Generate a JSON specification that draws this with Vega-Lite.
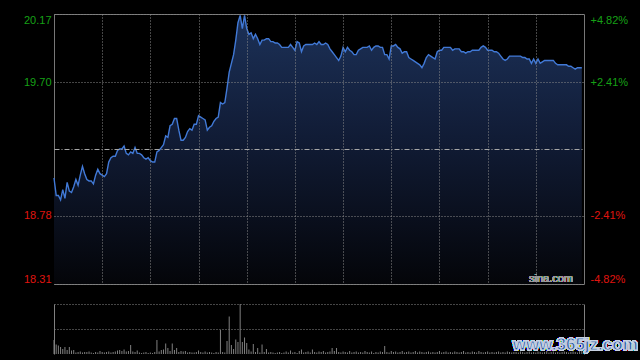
{
  "$schema": "https://vega.github.io/schema/vega-lite/v6.json",
  "background": "#000000",
  "padding": {"left": 22, "top": 12, "right": 6, "bottom": 10},
  "bounds": "flush",
  "spacing": 20,
  "config": {"font": "Liberation Sans", "axis": {"labelFont": "Liberation Sans", "labelFontSize": 11}},
  "datasets": {
    "price": [
      {"t":0,"p":19.04},{"t":1,"p":18.92},{"t":2,"p":18.92},{"t":3,"p":18.89},{"t":4,"p":18.96},{"t":5,"p":18.90},{"t":6,"p":19.01},{"t":7,"p":18.95},{"t":8,"p":18.94},{"t":9,"p":18.98},
      {"t":10,"p":19.03},{"t":11,"p":18.99},{"t":12,"p":19.06},{"t":13,"p":19.12},{"t":14,"p":19.07},{"t":15,"p":19.03},{"t":16,"p":19.02},{"t":17,"p":19.02},{"t":18,"p":19.00},{"t":19,"p":19.06},
      {"t":20,"p":19.10},{"t":21,"p":19.07},{"t":22,"p":19.06},{"t":23,"p":19.05},{"t":24,"p":19.07},{"t":25,"p":19.15},{"t":26,"p":19.18},{"t":27,"p":19.19},{"t":28,"p":19.19},{"t":29,"p":19.23},
      {"t":30,"p":19.24},{"t":31,"p":19.24},{"t":32,"p":19.26},{"t":33,"p":19.21},{"t":34,"p":19.20},{"t":35,"p":19.22},{"t":36,"p":19.21},{"t":37,"p":19.25},{"t":38,"p":19.21},{"t":39,"p":19.21},
      {"t":40,"p":19.20},{"t":41,"p":19.18},{"t":42,"p":19.17},{"t":43,"p":19.18},{"t":44,"p":19.16},{"t":45,"p":19.15},{"t":46,"p":19.15},{"t":47,"p":19.22},{"t":48,"p":19.23},{"t":49,"p":19.25},
      {"t":50,"p":19.27},{"t":51,"p":19.33},{"t":52,"p":19.32},{"t":53,"p":19.40},{"t":54,"p":19.41},{"t":55,"p":19.45},{"t":56,"p":19.45},{"t":57,"p":19.37},{"t":58,"p":19.30},{"t":59,"p":19.30},
      {"t":60,"p":19.32},{"t":61,"p":19.36},{"t":62,"p":19.38},{"t":63,"p":19.37},{"t":64,"p":19.41},{"t":65,"p":19.41},{"t":66,"p":19.47},{"t":67,"p":19.46},{"t":68,"p":19.45},{"t":69,"p":19.44},
      {"t":70,"p":19.37},{"t":71,"p":19.39},{"t":72,"p":19.40},{"t":73,"p":19.43},{"t":74,"p":19.45},{"t":75,"p":19.46},{"t":76,"p":19.56},{"t":77,"p":19.55},{"t":78,"p":19.56},{"t":79,"p":19.66},
      {"t":80,"p":19.77},{"t":81,"p":19.83},{"t":82,"p":19.89},{"t":83,"p":19.99},{"t":84,"p":20.11},{"t":85,"p":20.16},{"t":86,"p":20.07},{"t":87,"p":20.16},{"t":88,"p":20.07},{"t":89,"p":20.03},
      {"t":90,"p":20.04},{"t":91,"p":20.00},{"t":92,"p":20.03},{"t":93,"p":20.00},{"t":94,"p":19.96},{"t":95,"p":19.99},{"t":96,"p":19.99},{"t":97,"p":20.00},{"t":98,"p":20.00},{"t":99,"p":19.98},
      {"t":100,"p":19.98},{"t":101,"p":19.97},{"t":102,"p":19.97},{"t":103,"p":19.96},{"t":104,"p":19.94},{"t":105,"p":19.94},{"t":106,"p":19.94},{"t":107,"p":19.94},{"t":108,"p":19.96},{"t":109,"p":19.94},
      {"t":110,"p":19.92},{"t":111,"p":19.98},{"t":112,"p":19.97},{"t":113,"p":19.91},{"t":114,"p":19.95},{"t":115,"p":19.96},{"t":116,"p":19.96},{"t":117,"p":19.96},{"t":118,"p":19.96},{"t":119,"p":19.97},
      {"t":120,"p":19.96},{"t":121,"p":19.98},{"t":122,"p":19.96},{"t":123,"p":19.96},{"t":124,"p":19.97},{"t":125,"p":19.96},{"t":126,"p":19.93},{"t":127,"p":19.91},{"t":128,"p":19.89},{"t":129,"p":19.87},
      {"t":130,"p":19.85},{"t":131,"p":19.88},{"t":132,"p":19.94},{"t":133,"p":19.91},{"t":134,"p":19.94},{"t":135,"p":19.92},{"t":136,"p":19.91},{"t":137,"p":19.89},{"t":138,"p":19.89},{"t":139,"p":19.92},
      {"t":140,"p":19.93},{"t":141,"p":19.94},{"t":142,"p":19.94},{"t":143,"p":19.94},{"t":144,"p":19.95},{"t":145,"p":19.92},{"t":146,"p":19.94},{"t":147,"p":19.95},{"t":148,"p":19.95},{"t":149,"p":19.94},
      {"t":150,"p":19.94},{"t":151,"p":19.89},{"t":152,"p":19.89},{"t":153,"p":19.86},{"t":154,"p":19.95},{"t":155,"p":19.95},{"t":156,"p":19.96},{"t":157,"p":19.94},{"t":158,"p":19.93},{"t":159,"p":19.90},
      {"t":160,"p":19.91},{"t":161,"p":19.91},{"t":162,"p":19.87},{"t":163,"p":19.86},{"t":164,"p":19.85},{"t":165,"p":19.84},{"t":166,"p":19.83},{"t":167,"p":19.82},{"t":168,"p":19.80},{"t":169,"p":19.83},
      {"t":170,"p":19.87},{"t":171,"p":19.89},{"t":172,"p":19.88},{"t":173,"p":19.87},{"t":174,"p":19.86},{"t":175,"p":19.91},{"t":176,"p":19.92},{"t":177,"p":19.92},{"t":178,"p":19.94},{"t":179,"p":19.94},
      {"t":180,"p":19.94},{"t":181,"p":19.94},{"t":182,"p":19.92},{"t":183,"p":19.93},{"t":184,"p":19.93},{"t":185,"p":19.93},{"t":186,"p":19.91},{"t":187,"p":19.91},{"t":188,"p":19.90},{"t":189,"p":19.91},
      {"t":190,"p":19.91},{"t":191,"p":19.92},{"t":192,"p":19.92},{"t":193,"p":19.92},{"t":194,"p":19.92},{"t":195,"p":19.94},{"t":196,"p":19.95},{"t":197,"p":19.94},{"t":198,"p":19.92},{"t":199,"p":19.92},
      {"t":200,"p":19.92},{"t":201,"p":19.91},{"t":202,"p":19.91},{"t":203,"p":19.90},{"t":204,"p":19.88},{"t":205,"p":19.86},{"t":206,"p":19.85},{"t":207,"p":19.86},{"t":208,"p":19.88},{"t":209,"p":19.88},
      {"t":210,"p":19.88},{"t":211,"p":19.88},{"t":212,"p":19.88},{"t":213,"p":19.88},{"t":214,"p":19.87},{"t":215,"p":19.87},{"t":216,"p":19.86},{"t":217,"p":19.86},{"t":218,"p":19.83},{"t":219,"p":19.86},
      {"t":220,"p":19.83},{"t":221,"p":19.86},{"t":222,"p":19.83},{"t":223,"p":19.84},{"t":224,"p":19.85},{"t":225,"p":19.85},{"t":226,"p":19.85},{"t":227,"p":19.85},{"t":228,"p":19.85},{"t":229,"p":19.83},
      {"t":230,"p":19.82},{"t":231,"p":19.82},{"t":232,"p":19.82},{"t":233,"p":19.82},{"t":234,"p":19.82},{"t":235,"p":19.81},{"t":236,"p":19.81},{"t":237,"p":19.80},{"t":238,"p":19.79},{"t":239,"p":19.80},
      {"t":240,"p":19.80},{"t":241,"p":19.80}
    ],
    "volume": [
      {"t":0,"v":28},{"t":1,"v":19},{"t":2,"v":17},{"t":3,"v":14},{"t":4,"v":10},{"t":5,"v":14},{"t":6,"v":8},{"t":7,"v":14},{"t":8,"v":7},{"t":9,"v":8},
      {"t":10,"v":3},{"t":11,"v":4},{"t":12,"v":5},{"t":13,"v":3},{"t":14,"v":4},{"t":15,"v":4},{"t":16,"v":5},{"t":17,"v":3},{"t":18,"v":2},{"t":19,"v":4},
      {"t":20,"v":3},{"t":21,"v":6},{"t":22,"v":4},{"t":23,"v":3},{"t":24,"v":4},{"t":25,"v":5},{"t":26,"v":3},{"t":27,"v":4},{"t":28,"v":5},{"t":29,"v":7},
      {"t":30,"v":8},{"t":31,"v":6},{"t":32,"v":9},{"t":33,"v":5},{"t":34,"v":6},{"t":35,"v":18},{"t":36,"v":5},{"t":37,"v":4},{"t":38,"v":7},{"t":39,"v":3},
      {"t":40,"v":2},{"t":41,"v":3},{"t":42,"v":4},{"t":43,"v":2},{"t":44,"v":3},{"t":45,"v":2},{"t":46,"v":4},{"t":47,"v":28},{"t":48,"v":5},{"t":49,"v":8},
      {"t":50,"v":9},{"t":51,"v":21},{"t":52,"v":12},{"t":53,"v":6},{"t":54,"v":21},{"t":55,"v":8},{"t":56,"v":12},{"t":57,"v":4},{"t":58,"v":6},{"t":59,"v":5},
      {"t":60,"v":6},{"t":61,"v":3},{"t":62,"v":4},{"t":63,"v":3},{"t":64,"v":3},{"t":65,"v":4},{"t":66,"v":7},{"t":67,"v":4},{"t":68,"v":3},{"t":69,"v":5},
      {"t":70,"v":3},{"t":71,"v":4},{"t":72,"v":3},{"t":73,"v":2},{"t":74,"v":4},{"t":75,"v":3},{"t":76,"v":48},{"t":77,"v":4},{"t":78,"v":3},{"t":79,"v":26},
      {"t":80,"v":75},{"t":81,"v":18},{"t":82,"v":10},{"t":83,"v":29},{"t":84,"v":24},{"t":85,"v":100},{"t":86,"v":24},{"t":87,"v":33},{"t":88,"v":22},{"t":89,"v":9},
      {"t":90,"v":5},{"t":91,"v":20},{"t":92,"v":4},{"t":93,"v":12},{"t":94,"v":3},{"t":95,"v":19},{"t":96,"v":4},{"t":97,"v":10},{"t":98,"v":3},{"t":99,"v":4},
      {"t":100,"v":3},{"t":101,"v":2},{"t":102,"v":3},{"t":103,"v":4},{"t":104,"v":2},{"t":105,"v":3},{"t":106,"v":5},{"t":107,"v":3},{"t":108,"v":7},{"t":109,"v":3},
      {"t":110,"v":4},{"t":111,"v":2},{"t":112,"v":6},{"t":113,"v":9},{"t":114,"v":3},{"t":115,"v":4},{"t":116,"v":5},{"t":117,"v":3},{"t":118,"v":9},{"t":119,"v":4},
      {"t":120,"v":3},{"t":121,"v":5},{"t":122,"v":4},{"t":123,"v":6},{"t":124,"v":3},{"t":125,"v":4},{"t":126,"v":5},{"t":127,"v":12},{"t":128,"v":6},{"t":129,"v":12},
      {"t":130,"v":4},{"t":131,"v":3},{"t":132,"v":5},{"t":133,"v":4},{"t":134,"v":3},{"t":135,"v":6},{"t":136,"v":3},{"t":137,"v":4},{"t":138,"v":5},{"t":139,"v":3},
      {"t":140,"v":4},{"t":141,"v":3},{"t":142,"v":6},{"t":143,"v":4},{"t":144,"v":3},{"t":145,"v":5},{"t":146,"v":2},{"t":147,"v":4},{"t":148,"v":3},{"t":149,"v":5},
      {"t":150,"v":4},{"t":151,"v":16},{"t":152,"v":4},{"t":153,"v":3},{"t":154,"v":6},{"t":155,"v":4},{"t":156,"v":5},{"t":157,"v":3},{"t":158,"v":4},{"t":159,"v":6},
      {"t":160,"v":3},{"t":161,"v":4},{"t":162,"v":5},{"t":163,"v":3},{"t":164,"v":4},{"t":165,"v":6},{"t":166,"v":3},{"t":167,"v":5},{"t":168,"v":4},{"t":169,"v":3},
      {"t":170,"v":4},{"t":171,"v":5},{"t":172,"v":3},{"t":173,"v":4},{"t":174,"v":3},{"t":175,"v":4},{"t":176,"v":6},{"t":177,"v":3},{"t":178,"v":4},{"t":179,"v":5},
      {"t":180,"v":3},{"t":181,"v":4},{"t":182,"v":3},{"t":183,"v":5},{"t":184,"v":4},{"t":185,"v":3},{"t":186,"v":4},{"t":187,"v":6},{"t":188,"v":3},{"t":189,"v":4},
      {"t":190,"v":3},{"t":191,"v":5},{"t":192,"v":4},{"t":193,"v":3},{"t":194,"v":6},{"t":195,"v":4},{"t":196,"v":3},{"t":197,"v":4},{"t":198,"v":5},{"t":199,"v":3},
      {"t":200,"v":4},{"t":201,"v":3},{"t":202,"v":4},{"t":203,"v":5},{"t":204,"v":3},{"t":205,"v":4},{"t":206,"v":3},{"t":207,"v":5},{"t":208,"v":4},{"t":209,"v":3},
      {"t":210,"v":4},{"t":211,"v":4},{"t":212,"v":3},{"t":213,"v":5},{"t":214,"v":4},{"t":215,"v":3},{"t":216,"v":4},{"t":217,"v":5},{"t":218,"v":3},{"t":219,"v":4},
      {"t":220,"v":3},{"t":221,"v":5},{"t":222,"v":4},{"t":223,"v":3},{"t":224,"v":4},{"t":225,"v":6},{"t":226,"v":3},{"t":227,"v":4},{"t":228,"v":5},{"t":229,"v":3},
      {"t":230,"v":4},{"t":231,"v":3},{"t":232,"v":4},{"t":233,"v":5},{"t":234,"v":4},{"t":235,"v":3},{"t":236,"v":4},{"t":237,"v":5},{"t":238,"v":4},{"t":239,"v":3},
      {"t":240,"v":6},{"t":241,"v":8}
    ]
  },
  "vconcat": [
    {
      "width": 530,
      "height": 270,
      "view": {"stroke": "#777777", "strokeWidth": 1},
      "data": {"name": "price"},
      "encoding": {
        "x": {
          "field": "t", "type": "quantitative",
          "scale": {"domain": [0, 242], "nice": false, "zero": false},
          "axis": {"values": [22,44,66,88,110,132,154,176,198,220], "grid": true, "gridColor": "#8a8a8a", "gridDash": [1,2], "gridWidth": 1, "labels": false, "ticks": false, "domain": false, "title": null, "zindex": 1}
        }
      },
      "layer": [
        {
          "mark": {"type": "area", "clip": true, "fill": {"gradient": "linear", "x1": 0, "y1": 0, "x2": 0, "y2": 1, "stops": [{"offset": 0, "color": "#1c3158"}, {"offset": 0.45, "color": "#111c36"}, {"offset": 1, "color": "#040509"}]}, "stroke": null},
          "encoding": {
            "y": {
              "field": "p", "type": "quantitative",
              "scale": {"domain": [18.31, 20.17], "nice": false, "zero": false},
              "axis": {
                "orient": "left", "values": [18.31, 18.78, 19.24, 19.7, 20.17], "title": null, "domain": false, "ticks": false,
                "labelFlush": true, "labelPadding": 3, "labelFontSize": 11,
                "labelColor": {"condition": {"test": "datum.value > 19.3", "value": "#16a016"}, "value": "#e0140f"},
                "labelExpr": "(datum.value > 19.2 && datum.value < 19.3) ? '' : format(datum.value, '.2f')",
                "grid": true,
                "gridColor": {"condition": {"test": "datum.value > 19.2 && datum.value < 19.3", "value": "#a8a8a8"}, "value": "#8a8a8a"},
                "gridDash": {"condition": {"test": "datum.value > 19.2 && datum.value < 19.3", "value": [5,2,1,2]}, "value": [1,2]},
                "zindex": 1
              }
            },
            "y2": {"datum": 18.31}
          }
        },
        {
          "mark": {"type": "line", "color": "#4179d6", "strokeWidth": 1.4},
          "encoding": {
            "y": {
              "field": "p", "type": "quantitative",
              "scale": {"domain": [18.31, 20.17], "nice": false, "zero": false},
              "axis": {
                "orient": "right", "values": [18.31, 18.78, 19.7, 20.17], "title": null, "domain": false, "ticks": false, "grid": false,
                "labelFlush": true, "labelPadding": 6, "labelFontSize": 11,
                "labelColor": {"condition": {"test": "datum.value > 19.3", "value": "#16a016"}, "value": "#e0140f"},
                "labelExpr": "datum.value > 20 ? '+4.82%' : datum.value > 19.5 ? '+2.41%' : datum.value > 18.5 ? '-2.41%' : '-4.82%'"
              }
            }
          }
        },
        {
          "mark": {"type": "text", "text": "sina.com", "color": "#9a9a9a", "fontSize": 11, "align": "right", "baseline": "middle"},
          "encoding": {
            "x": {"datum": 237, "type": "quantitative"},
            "y": {"datum": 18.345, "type": "quantitative", "scale": {"domain": [18.31, 20.17], "nice": false, "zero": false}, "axis": null}
          }
        }
      ],
      "resolve": {"scale": {"y": "independent"}}
    },
    {
      "width": 530,
      "height": 50,
      "view": {"stroke": null},
      "data": {"name": "volume"},
      "encoding": {
        "x": {"field": "t", "type": "quantitative", "scale": {"domain": [0, 242], "nice": false, "zero": false}, "axis": null}
      },
      "layer": [
        {
          "mark": {"type": "rule", "color": "#808080", "strokeWidth": 1},
          "encoding": {
            "y": {
              "field": "v", "type": "quantitative", "scale": {"domain": [0, 100], "nice": false},
              "axis": {"orient": "left", "values": [50, 100], "title": null, "labels": false, "ticks": false, "domain": true, "domainColor": "#808080", "grid": true, "gridColor": "#8a8a8a", "gridDash": [1,2]}
            },
            "y2": {"datum": 0}
          }
        },
        {
          "mark": {"type": "text", "text": "www.365jz.com", "fontSize": 17, "fontWeight": "bold", "fill": "#21539e", "stroke": "#c9d3e3", "strokeWidth": 1, "align": "center", "baseline": "middle"},
          "encoding": {
            "x": {"datum": 238, "type": "quantitative"},
            "y": {"datum": 18, "type": "quantitative", "scale": {"domain": [0, 100], "nice": false},
              "axis": {"orient": "right", "values": [], "title": null, "labels": false, "ticks": false, "grid": false, "domain": true, "domainColor": "#808080"}}
          }
        }
      ],
      "resolve": {"scale": {"y": "independent"}}
    }
  ]
}
